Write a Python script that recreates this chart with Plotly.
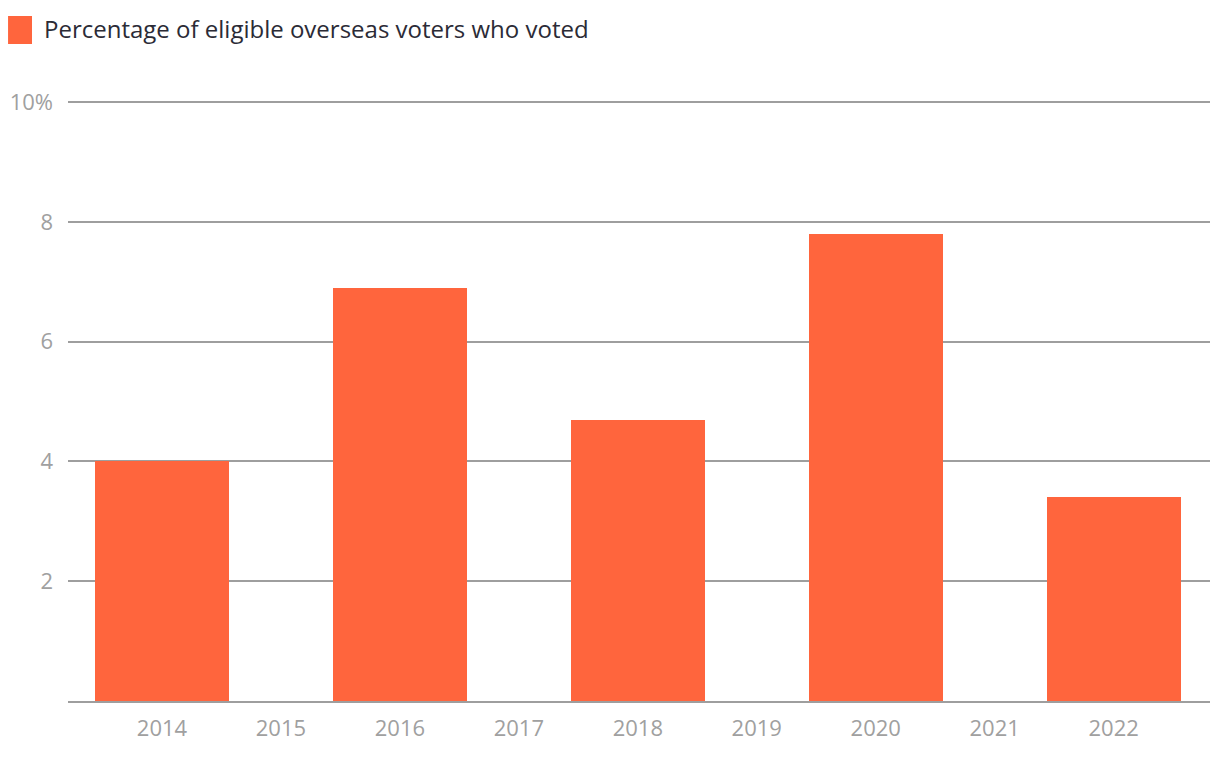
import plotly.graph_objects as go

# datos
anios = [2014, 2016, 2018, 2020, 2022]
porcentaje = [4.0, 6.9, 4.7, 7.8, 3.4]
anios_eje = [2014, 2015, 2016, 2017, 2018, 2019, 2020, 2021, 2022]
y_ticks = [2, 4, 6, 8, 10]
y_textos = ["2", "4", "6", "8", "10%"]
leyenda = "Percentage of eligible overseas voters who voted"

color_barra = "#FF653D"
gris = "#a0a0a0"

fig = go.Figure()
fig.add_trace(go.Bar(
    x=anios,
    y=porcentaje,
    width=1.126,
    marker=dict(color=color_barra, line=dict(width=0)),
    name=leyenda,
    showlegend=False,
))

# leyenda hecha a mano (cuadro grande como en el original)
fig.add_shape(type="rect", xref="paper", yref="paper",
              x0=-0.0525, x1=-0.0315, y0=1.095, y1=1.1417,
              fillcolor=color_barra, line=dict(width=0))
fig.add_annotation(xref="paper", yref="paper", x=-0.0232, y=1.12,
                   text=leyenda, showarrow=False, xanchor="left", yanchor="middle",
                   font=dict(size=24, color="#2b2b36"))

# la página añade 8px de margen al body: se compensa en el tamaño
fig.update_layout(
    width=1204, height=748,
    margin=dict(l=60, r=2, t=93, b=55),
    paper_bgcolor="white",
    plot_bgcolor="white",
    font=dict(family="Open Sans, Noto Sans, sans-serif", color=gris),
    bargap=0,
)
fig.update_xaxes(
    range=[2013.21, 2022.81],
    tickvals=anios_eje,
    ticktext=[str(a) for a in anios_eje],
    showgrid=False,
    showline=True, linecolor="#9e9e9e", linewidth=2,
    ticks="", tickfont=dict(size=22, color=gris),
    ticklabelstandoff=7,
    zeroline=False,
)
fig.update_yaxes(
    range=[0, 10.02],
    tickvals=y_ticks,
    ticktext=y_textos,
    showgrid=True, gridcolor="#9e9e9e", gridwidth=1.5,
    showline=False, zeroline=False,
    ticks="", tickfont=dict(size=22, color=gris),
    ticklabelstandoff=14,
)

fig.write_html("out.html")
